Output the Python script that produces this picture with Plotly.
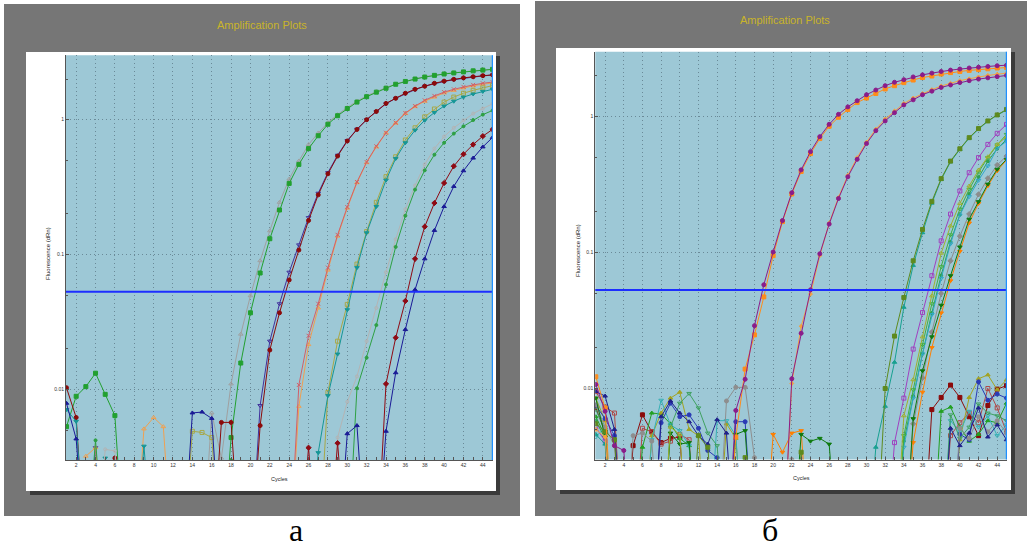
import math
import plotly.graph_objects as go

W, H = 1029, 549

CYCLES = list(range(1, 46))
THRESHOLD = 0.053
Y_MIN, Y_MAX = 0.003, 3.0
X_TICKS = list(range(2, 45, 2))
Y_TICKS = [0.01, 0.1, 1]
Y_TICK_TEXT = ["0.01", "0.1", "1"]
BELOW = 0.0005   # readings under the axis floor (curve leaves the plot at the bottom)
CURSOR_CYCLE = 45

# ---------------- panel "а" (cycles 1..45) ----------------
A_GRAY_TRI = [0, 0, 0, 0, 0, 0, 0, 0, 0, 0,
              0, 0, 0, 0, 0, 0.0067, 0.0031, 0.011, 0.0257, 0.0495,
              0.09, 0.15, 0.244, 0.363, 0.494, 0.654, 0.797, 0.95, 1.09, 1.23,
              1.37, 1.5, 1.62, 1.73, 1.84, 1.93, 2.01, 2.08, 2.14, 2.19,
              2.23, 2.27, 2.31, 2.34, 2.37]
A_GREEN_SQ = [0.0053, 0.0089, 0.0105, 0.0132, 0.0092, 0.0064, 0, 0, 0, 0,
              0, 0, 0, 0, 0, 0, 0, 0.0044, 0.0157, 0.037,
              0.073, 0.131, 0.214, 0.337, 0.466, 0.61, 0.76, 0.925, 1.07, 1.21,
              1.35, 1.48, 1.6, 1.71, 1.83, 1.92, 2.0, 2.07, 2.13, 2.18,
              2.22, 2.26, 2.3, 2.33, 2.36]
A_NAVY_INV = [0, 0, 0, 0.0037, 0, 0, 0, 0, 0, 0,
              0, 0, 0, 0, 0, 0, 0, 0, 0, 0,
              0.0076, 0.0228, 0.0432, 0.074, 0.118, 0.188, 0.285, 0.405, 0.545, 0.70,
              0.85, 1.0, 1.15, 1.31, 1.44, 1.56, 1.67, 1.77, 1.85, 1.92,
              1.98, 2.03, 2.07, 2.11, 2.14]
A_RED_CIR = [0.0103, 0.0062, 0, 0, 0, 0.0031, 0, 0, 0, 0,
             0, 0, 0, 0, 0, 0, 0.0057, 0.0057, 0, 0,
             0.0054, 0.0196, 0.037, 0.0648, 0.108, 0.179, 0.277, 0.397, 0.537, 0.695,
             0.846, 1.0, 1.15, 1.32, 1.44, 1.57, 1.68, 1.77, 1.86, 1.93,
             1.99, 2.04, 2.08, 2.12, 2.15]
A_ORANGE_TRI = [0, 0, 0.0032, 0.0037, 0, 0, 0, 0, 0.0051, 0.0062,
                0.0053, 0, 0, 0, 0, 0, 0, 0, 0, 0,
                0, 0, 0, 0, 0.0075, 0.0215, 0.0402, 0.0767, 0.137, 0.221,
                0.341, 0.48, 0.628, 0.797, 0.942, 1.11, 1.25, 1.37, 1.47, 1.58,
                1.65, 1.72, 1.78, 1.83, 1.87]
A_PURPLE_X = [0, 0, 0, 0, 0, 0, 0, 0, 0, 0,
              0, 0, 0, 0, 0, 0, 0, 0, 0, 0,
              0, 0, 0, 0, 0.0108, 0.025, 0.0432, 0.08, 0.14, 0.225,
              0.345, 0.485, 0.635, 0.80, 0.95, 1.12, 1.26, 1.39, 1.5, 1.6,
              1.68, 1.75, 1.81, 1.86, 1.9]
A_OLIVE_SQ = [0, 0, 0, 0, 0, 0, 0, 0, 0, 0,
              0, 0, 0, 0.0049, 0.0048, 0.0044, 0, 0, 0, 0,
              0, 0, 0, 0, 0, 0, 0, 0.0095, 0.0228, 0.0427,
              0.085, 0.148, 0.244, 0.378, 0.531, 0.707, 0.871, 1.05, 1.2, 1.35,
              1.47, 1.57, 1.65, 1.72, 1.79]
A_TEAL_INV = [0.0071, 0.0058, 0, 0, 0.0031, 0, 0, 0, 0.0038, 0,
              0, 0, 0, 0, 0, 0, 0, 0, 0, 0,
              0, 0, 0, 0, 0, 0, 0.0034, 0.009, 0.0183, 0.039,
              0.08, 0.145, 0.227, 0.356, 0.515, 0.674, 0.836, 0.99, 1.13, 1.26,
              1.37, 1.47, 1.55, 1.62, 1.68]
A_LGRAY_CIR = [0, 0, 0, 0, 0.0036, 0.0035, 0, 0, 0, 0,
               0, 0, 0, 0, 0, 0, 0, 0, 0, 0,
               0, 0, 0, 0, 0, 0, 0, 0, 0.0044, 0.0081,
               0.0125, 0.0228, 0.0402, 0.074, 0.13, 0.217, 0.325, 0.466, 0.61, 0.75,
               0.87, 0.99, 1.11, 1.21, 1.31]
A_GREEN_CIR = [0, 0, 0, 0.0042, 0, 0, 0, 0, 0, 0,
               0, 0, 0, 0, 0, 0, 0, 0.003, 0, 0,
               0, 0, 0, 0, 0, 0, 0, 0, 0, 0,
               0.0102, 0.0172, 0.030, 0.06, 0.114, 0.194, 0.303, 0.421, 0.55, 0.674,
               0.788, 0.893, 0.994, 1.09, 1.17]
A_NAVY_TRI = [0.0079, 0.0043, 0, 0, 0, 0, 0, 0, 0, 0,
              0, 0, 0, 0.0067, 0.0068, 0.0061, 0, 0, 0, 0,
              0, 0, 0, 0, 0, 0, 0, 0, 0, 0.0047,
              0.0054, 0, 0, 0.0049, 0.0133, 0.0278, 0.0549, 0.093, 0.151, 0.227,
              0.32, 0.418, 0.519, 0.628, 0.738]
A_RED_DIA = [0, 0, 0, 0, 0, 0, 0, 0, 0, 0,
             0, 0, 0, 0, 0, 0, 0, 0, 0, 0,
             0, 0, 0, 0, 0, 0.0037, 0, 0, 0.004, 0,
             0, 0, 0, 0.011, 0.0242, 0.0453, 0.093, 0.161, 0.241, 0.339,
             0.452, 0.554, 0.654, 0.755, 0.846]

# ---------------- panel "б" (cycles 1..45) ----------------
B_N_DKRED_SQ = [0.0072, 0.0048, 0, 0, 0.0038, 0.0064, 0.0048, 0.004, 0.0043, 0.0044,
                0, 0, 0, 0, 0, 0, 0, 0, 0, 0,
                0, 0, 0, 0, 0, 0, 0, 0, 0, 0,
                0, 0, 0, 0, 0, 0, 0.007, 0.0086, 0.0106, 0.0086,
                0.0062, 0.0045, 0.0075, 0.0099, 0.0105]
B_N_BROWN_SQO = [0.0095, 0.0073, 0.0066, 0, 0, 0.0051, 0.0048, 0.0039, 0.0041, 0.0046,
                 0.0042, 0, 0, 0, 0, 0, 0, 0, 0, 0,
                 0, 0, 0, 0, 0, 0, 0, 0, 0, 0,
                 0, 0, 0, 0, 0, 0, 0, 0, 0.0045, 0.0056,
                 0.0066, 0.0056, 0.0100, 0.0072, 0.0048]
B_N_GREEN_TRI = [0.0062, 0.0045, 0, 0, 0, 0.0037, 0.0066, 0.0065, 0.0055, 0.0043,
                 0.0038, 0, 0, 0, 0, 0, 0, 0, 0, 0,
                 0, 0, 0, 0, 0, 0, 0, 0, 0, 0,
                 0, 0, 0, 0, 0, 0, 0, 0.0068, 0.0073, 0.0052,
                 0.0041, 0.0046, 0.0058, 0.0056, 0.0078]
B_N_OLIVE_TRI = [0.0085, 0.0058, 0, 0, 0, 0, 0.0045, 0.0066, 0.0085, 0.0094,
                 0.005, 0.0045, 0, 0, 0.0055, 0.0043, 0, 0, 0, 0,
                 0, 0, 0, 0, 0, 0, 0, 0, 0, 0,
                 0, 0, 0, 0, 0, 0, 0, 0, 0, 0.0042,
                 0.0086, 0.0118, 0.0126, 0.0098, 0.0116]
B_N_TEAL_INVO = [0.0044, 0.0052, 0, 0, 0, 0, 0.0042, 0.0082, 0.0054, 0.0049,
                 0.0038, 0, 0, 0.0058, 0.0058, 0.0045, 0, 0, 0, 0,
                 0, 0, 0, 0, 0, 0, 0, 0, 0, 0,
                 0, 0, 0, 0, 0, 0, 0, 0, 0.0058, 0.0048,
                 0.0068, 0.0052, 0.0063, 0.0045, 0.0054]
B_N_BLUE_CIR = [0.0075, 0.006, 0.0045, 0, 0, 0, 0, 0.0056, 0.0078, 0.0062,
                0.0064, 0.0051, 0.0035, 0.0031, 0, 0.0057, 0.0057, 0, 0, 0,
                0, 0, 0, 0, 0, 0, 0, 0, 0, 0,
                0, 0, 0, 0, 0, 0, 0, 0, 0, 0.0046,
                0.0042, 0.0112, 0.0082, 0.0091, 0.0085]
B_N_GREEN_INVO = [0.007, 0.005, 0, 0, 0, 0, 0, 0, 0.0052, 0.0078,
                  0.0092, 0.0072, 0.0047, 0.0038, 0, 0, 0, 0, 0, 0,
                  0, 0, 0, 0, 0, 0, 0, 0, 0, 0,
                  0, 0, 0, 0, 0, 0, 0, 0, 0.0064, 0.0043,
                  0.0052, 0.0077, 0.0066, 0.0063, 0.0058]
B_N_GRAY_CIR = [0.0076, 0.0052, 0.0038, 0, 0.0045, 0.0047, 0.0041, 0, 0, 0,
                0, 0, 0, 0, 0.0081, 0.0102, 0.0102, 0.0031, 0, 0,
                0, 0.003, 0, 0, 0, 0, 0, 0, 0, 0,
                0, 0, 0, 0, 0, 0, 0, 0, 0, 0.0051,
                0.0043, 0.0062, 0.0048, 0.0058, 0.0047]
B_N_NAVY_TRI = [0.0095, 0.0088, 0.005, 0, 0, 0, 0, 0.0062, 0.0081, 0.0066,
                0.0057, 0.0045, 0.0039, 0.0059, 0.0047, 0, 0, 0, 0, 0,
                0, 0, 0, 0, 0, 0, 0, 0, 0, 0,
                0, 0, 0, 0, 0, 0, 0, 0, 0.0051, 0.0038,
                0.0047, 0.0072, 0.0044, 0.0054, 0.0042]

B_PURPLE_SQO = [0.0052, 0.0041, 0, 0, 0, 0, 0, 0, 0, 0,
                0, 0, 0, 0, 0, 0, 0, 0, 0, 0,
                0, 0, 0, 0, 0, 0, 0, 0, 0, 0,
                0, 0, 0.004, 0.0085, 0.0195, 0.0362, 0.0676, 0.122, 0.192, 0.284,
                0.387, 0.5, 0.625, 0.754, 0.877]
B_OLIVE_TRIO = [0, 0, 0, 0, 0, 0, 0, 0, 0.0052, 0.0046,
                0, 0, 0, 0, 0, 0, 0, 0, 0, 0,
                0, 0, 0, 0, 0, 0, 0, 0, 0, 0,
                0, 0, 0, 0.0063, 0.0116, 0.024, 0.048, 0.099, 0.157, 0.23,
                0.309, 0.405, 0.507, 0.625, 0.711]
B_GREEN_INVO = [0, 0, 0, 0, 0, 0, 0, 0, 0, 0,
                0, 0, 0, 0, 0, 0, 0, 0, 0, 0,
                0, 0, 0, 0, 0, 0, 0, 0, 0, 0,
                0, 0, 0, 0.0045, 0.0098, 0.021, 0.042, 0.0787, 0.135, 0.209,
                0.292, 0.39, 0.5, 0.62, 0.74]
B_TEAL_INVO = [0, 0, 0, 0, 0, 0, 0, 0, 0, 0,
               0, 0, 0, 0, 0, 0, 0, 0, 0, 0,
               0, 0, 0, 0, 0, 0, 0, 0, 0, 0,
               0, 0, 0, 0.0037, 0.0085, 0.018, 0.035, 0.0646, 0.116, 0.189,
               0.258, 0.34, 0.434, 0.585, 0.66]
B_GREEN_CIR = [0.0058, 0.0043, 0, 0, 0, 0, 0, 0, 0, 0,
               0, 0, 0, 0, 0, 0, 0, 0, 0, 0,
               0, 0, 0, 0, 0, 0, 0, 0, 0, 0,
               0, 0, 0, 0.0041, 0.0088, 0.018, 0.036, 0.068, 0.12, 0.19,
               0.27, 0.36, 0.47, 0.58, 0.68]
B_GRAY_DIA = [0, 0, 0, 0, 0, 0, 0, 0, 0, 0,
              0, 0, 0, 0, 0, 0, 0, 0, 0, 0,
              0, 0, 0, 0, 0, 0, 0, 0, 0, 0,
              0, 0, 0, 0, 0.0055, 0.012, 0.026, 0.05, 0.087, 0.132,
              0.192, 0.268, 0.352, 0.441, 0.513]
B_DKGREEN_INV = [0.0085, 0.0044, 0, 0, 0, 0, 0, 0, 0.0047, 0.0039,
                 0.004, 0, 0, 0, 0, 0.0046, 0.0049, 0, 0, 0,
                 0, 0, 0.0046, 0.0041, 0.0043, 0.0039, 0, 0, 0, 0,
                 0, 0, 0, 0, 0.006, 0.0135, 0.024, 0.041, 0.0676, 0.11,
                 0.176, 0.237, 0.319, 0.41, 0.485]
B_ORANGE_INV = [0, 0, 0, 0, 0, 0, 0, 0, 0, 0,
                0, 0, 0, 0, 0, 0, 0, 0, 0, 0.0046,
                0.0034, 0.0047, 0.0049, 0, 0, 0, 0, 0, 0, 0,
                0, 0, 0, 0, 0.004, 0.0094, 0.02, 0.036, 0.062, 0.102,
                0.165, 0.23, 0.31, 0.4, 0.48]
B_TEAL_TRI = [0.0046, 0.0039, 0, 0, 0, 0, 0, 0, 0, 0,
              0, 0, 0, 0, 0, 0, 0, 0, 0, 0,
              0, 0, 0, 0, 0, 0, 0, 0, 0, 0,
              0.0037, 0.0074, 0.0156, 0.0396, 0.0805, 0.14, 0.231, 0.345, 0.465, 0.575,
              0.695, 0.81, 0.925, 1.025, 1.12]
B_OLIVE_SQ = [0.0055, 0.0048, 0.0042, 0, 0, 0, 0, 0, 0, 0,
              0, 0.0045, 0.0037, 0, 0, 0, 0.0031, 0, 0, 0,
              0, 0, 0.0034, 0, 0, 0, 0, 0, 0, 0,
              0, 0.01, 0.0243, 0.0467, 0.087, 0.148, 0.238, 0.35, 0.471, 0.58,
              0.701, 0.817, 0.93, 1.03, 1.13]
B_ORANGE2 = [0.005, 0.0044, 0, 0, 0, 0, 0, 0, 0, 0,
             0, 0, 0, 0, 0, 0, 0, 0, 0, 0,
             0, 0.0109, 0.0287, 0.0495, 0.095, 0.165, 0.255, 0.37, 0.5, 0.65,
             0.81, 0.96, 1.1, 1.25, 1.37, 1.48, 1.58, 1.68, 1.76, 1.84,
             1.9, 1.96, 2.01, 2.05, 2.09]
B_PURPLE2 = [0, 0, 0, 0, 0, 0, 0, 0, 0, 0,
             0, 0, 0, 0, 0, 0, 0, 0, 0, 0,
             0, 0.0118, 0.0255, 0.0532, 0.098, 0.162, 0.25, 0.361, 0.485, 0.634,
             0.789, 0.93, 1.07, 1.22, 1.33, 1.45, 1.54, 1.64, 1.71, 1.78,
             1.84, 1.89, 1.93, 1.97, 2.01]
B_ORANGE1 = [0.0122, 0.0072, 0, 0, 0, 0, 0, 0, 0, 0,
             0, 0, 0, 0, 0, 0.0044, 0.0139, 0.0248, 0.0472, 0.095,
             0.169, 0.27, 0.395, 0.535, 0.69, 0.85, 0.99, 1.13, 1.27, 1.37,
             1.48, 1.6, 1.69, 1.78, 1.86, 1.94, 1.99, 2.06, 2.11, 2.15,
             2.19, 2.22, 2.25, 2.28, 2.3]
B_PURPLE1 = [0.0107, 0.0068, 0.0038, 0.0035, 0, 0, 0, 0, 0, 0,
             0, 0, 0, 0, 0, 0.0069, 0.0117, 0.029, 0.058, 0.101,
             0.172, 0.276, 0.406, 0.553, 0.713, 0.878, 1.04, 1.18, 1.31, 1.45,
             1.57, 1.69, 1.79, 1.87, 1.96, 2.03, 2.09, 2.15, 2.2, 2.24,
             2.28, 2.31, 2.34, 2.37, 2.39]

# ---------------- styles (drawing order) ----------------
PANEL_A = [
    (A_GRAY_TRI, "#A0A0A0", "triangle-up-open", 4),
    (A_GREEN_SQ, "#22A030", "square", 4),
    (A_NAVY_INV, "#40309C", "triangle-down-open", 4),
    (A_RED_CIR, "#8B0A0A", "circle", 4),
    (A_ORANGE_TRI, "#F0A050", "triangle-up-open", 4),
    (A_PURPLE_X, "#D0606A", "x-thin-open", 4),
    (A_OLIVE_SQ, "#A8A848", "square-open", 4),
    (A_TEAL_INV, "#159696", "triangle-down", 4),
    (A_LGRAY_CIR, "#B4B4B4", "circle-open", 3),
    (A_GREEN_CIR, "#2EA043", "circle", 3),
    (A_NAVY_TRI, "#1A1A96", "triangle-up", 4),
    (A_RED_DIA, "#8E0A14", "diamond", 4),
]
PANEL_B = [
    (B_N_DKRED_SQ, "#8B0A0A", "square", 4),
    (B_N_BROWN_SQO, "#B04848", "square-open", 4),
    (B_N_GREEN_TRI, "#22A022", "triangle-up", 4),
    (B_N_OLIVE_TRI, "#A3A321", "triangle-up", 4),
    (B_N_TEAL_INVO, "#35B0B5", "triangle-down-open", 4),
    (B_N_BLUE_CIR, "#2A3AB5", "circle", 4),
    (B_N_GREEN_INVO, "#3FA060", "triangle-down-open", 4),
    (B_N_GRAY_CIR, "#8E8E8E", "circle", 4),
    (B_N_NAVY_TRI, "#20208A", "triangle-up", 4),
    (B_GRAY_DIA, "#8C8C8C", "diamond", 4),
    (B_ORANGE_INV, "#FF7F00", "triangle-down", 4),
    (B_DKGREEN_INV, "#0E7A0E", "triangle-down", 4),
    (B_GREEN_CIR, "#2EA050", "circle", 3),
    (B_TEAL_INVO, "#30A8C8", "triangle-down-open", 4),
    (B_GREEN_INVO, "#40B040", "triangle-down-open", 4),
    (B_OLIVE_TRIO, "#A0B030", "triangle-up-open", 4),
    (B_PURPLE_SQO, "#A040C0", "square-open", 4),
    (B_TEAL_TRI, "#18A090", "triangle-up", 4),
    (B_OLIVE_SQ, "#5E8A1E", "square", 4),
    (B_ORANGE2, "#F5A040", "diamond", 3),
    (B_PURPLE2, "#8A1C8A", "circle", 4),
    (B_ORANGE1, "#FF8C1A", "square", 4),
    (B_PURPLE1, "#8A1C8A", "circle", 4),
]

fig = go.Figure()


def add_panel(series, xa, ya):
    for data, color, symbol, size in series:
        xs = CYCLES[:len(data)]
        ys = [v if v > 0 else BELOW for v in data]
        fig.add_trace(go.Scatter(
            x=xs, y=ys, mode="lines+markers", xaxis=xa, yaxis=ya,
            line=dict(color=color, width=1),
            marker=dict(symbol=symbol, size=size, color=color,
                        line=dict(color=color, width=1)),
            showlegend=False, hoverinfo="skip"))


add_panel(PANEL_A, "x", "y")
add_panel(PANEL_B, "x2", "y2")


def px_rect(x0, y0, x1, y1, color, layer="below"):
    return dict(type="rect", xref="paper", yref="paper",
                x0=x0 / W, x1=x1 / W, y0=1 - y1 / H, y1=1 - y0 / H,
                fillcolor=color, line=dict(width=0), layer=layer)


GRAY = "#767676"
PLOT_BG = "#9DC8D6"
shapes = [
    px_rect(4, 4, 520, 516, GRAY),
    px_rect(30, 56, 500, 495, "#3A3A3A"),
    px_rect(26, 52, 496, 491, "white"),
    px_rect(535, 1, 1027, 516, GRAY),
    px_rect(560, 52, 1015, 494, "#3A3A3A"),
    px_rect(556, 48, 1011, 490, "white"),
]
for xa, ya in (("x", "y"), ("x2", "y2")):
    shapes.append(dict(type="rect", xref=f"{xa} domain", yref=f"{ya} domain",
                       x0=0, x1=1, y0=0, y1=1, fillcolor=PLOT_BG,
                       line=dict(width=0), layer="below"))
    shapes.append(dict(type="line", xref=f"{xa} domain", yref=ya,
                       x0=0, x1=1, y0=THRESHOLD, y1=THRESHOLD,
                       line=dict(color="#1C2EFF", width=2), layer="above"))
    shapes.append(dict(type="line", xref=xa, yref=f"{ya} domain",
                       x0=CURSOR_CYCLE, x1=CURSOR_CYCLE, y0=0, y1=1,
                       line=dict(color="#1E90FF", width=1.5), layer="above"))

TICK_FONT = dict(family="Liberation Sans, Arial, sans-serif", size=5, color="#333333")
GRID_COLOR = "#6A8A98"
GRID_DASH = "1px,3px"


def xaxis(domain, anchor):
    return dict(domain=domain, anchor=anchor, range=[0.95, 45.05],
                tickmode="array", tickvals=X_TICKS, ticktext=[str(t) for t in X_TICKS],
                ticks="inside", ticklen=3, tickcolor="#555555",
                minor=dict(dtick=1, tick0=1, ticks="inside", ticklen=3,
                           tickcolor="#555555", showgrid=False),
                showgrid=True, gridcolor=GRID_COLOR, griddash=GRID_DASH, gridwidth=1,
                showline=True, linecolor="#555555", linewidth=1,
                zeroline=False, tickfont=TICK_FONT, fixedrange=True)


def yaxis(domain, anchor):
    return dict(domain=domain, anchor=anchor, type="log",
                range=[math.log10(Y_MIN), math.log10(Y_MAX)],
                tickmode="array", tickvals=Y_TICKS, ticktext=Y_TICK_TEXT,
                ticks="inside", ticklen=3, tickcolor="#555555",
                minor=dict(dtick="D2", ticks="inside", ticklen=2,
                           tickcolor="#555555", showgrid=False),
                showgrid=True, gridcolor=GRID_COLOR, griddash=GRID_DASH, gridwidth=1,
                showline=True, linecolor="#555555", linewidth=1,
                zeroline=False, tickfont=TICK_FONT, fixedrange=True)


def ann(text, x, y, size, color="#222222", family="Liberation Sans, Arial, sans-serif",
        angle=0):
    return dict(text=text, x=x / W, y=1 - y / H, xref="paper", yref="paper",
                showarrow=False, xanchor="center", yanchor="middle",
                textangle=angle, font=dict(size=size, color=color, family=family))


TITLE_COLOR = "#C9B42A"
annotations = [
    ann("Amplification Plots", 262, 24.5, 11, TITLE_COLOR),
    ann("Amplification Plots", 785, 20, 11, TITLE_COLOR),
    ann("Fluorescence (dRn)", 48, 254, 6, angle=-90),
    ann("Fluorescence (dRn)", 578, 251, 6, angle=-90),
    ann("Cycles", 279, 479, 5.5),
    ann("Cycles", 801, 478, 5.5),
    ann("а", 296, 530, 32, "#000000", "Liberation Serif, Times New Roman, serif"),
    ann("б", 770, 530, 32, "#000000", "Liberation Serif, Times New Roman, serif"),
]

fig.update_layout(
    width=W, height=H, autosize=False,
    margin=dict(l=0, r=0, t=0, b=0),
    paper_bgcolor="white", plot_bgcolor="rgba(0,0,0,0)",
    showlegend=False,
    xaxis=xaxis([66 / W, 493 / W], "y"),
    yaxis=yaxis([1 - 460 / H, 1 - 55.3 / H], "x"),
    xaxis2=xaxis([595.3 / W, 1007 / W], "y2"),
    yaxis2=yaxis([1 - 459.6 / H, 1 - 51.8 / H], "x2"),
    shapes=shapes,
    annotations=annotations,
)

fig.write_html(
    "out.html",
    config={"displayModeBar": False},
    post_script="document.body.style.margin='0px';document.body.style.padding='0px';"
                "document.body.style.overflow='hidden';",
)
